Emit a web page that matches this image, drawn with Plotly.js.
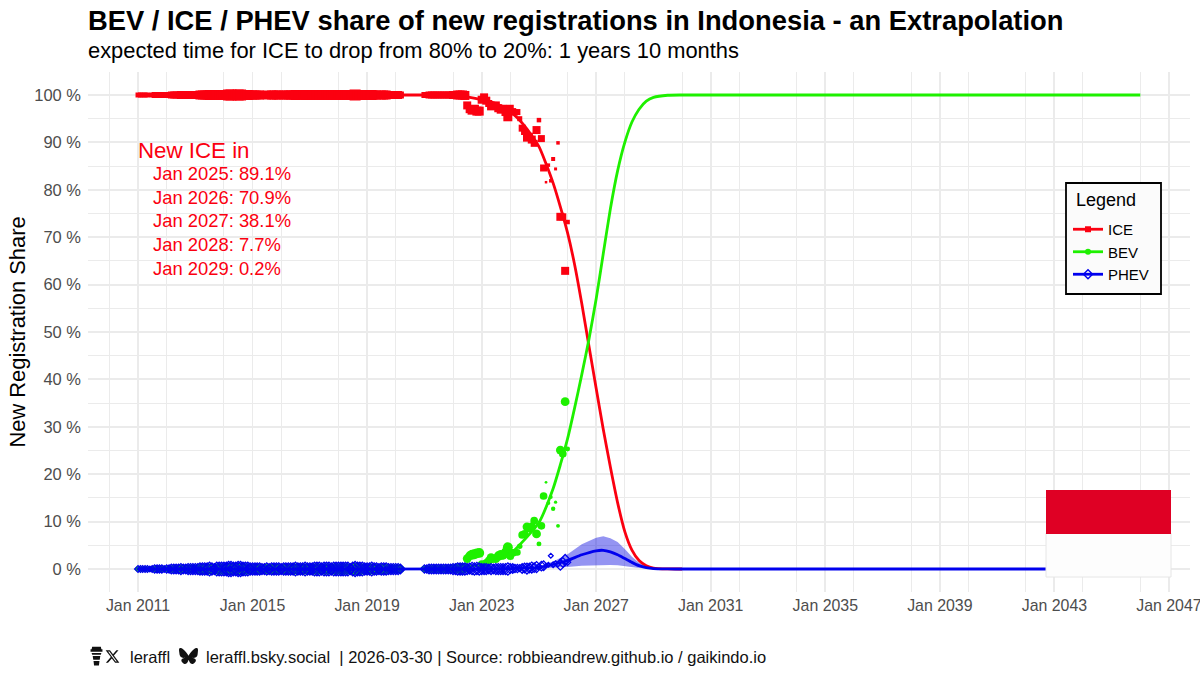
<!DOCTYPE html>
<html>
<head>
<meta charset="utf-8">
<script src="https://cdn.plot.ly/plotly-3.0.1.min.js"></script>
<style>html,body{margin:0;padding:0;background:#fff}</style>
</head>
<body>
<div id="chart" style="width:1200px;height:675px"></div>
<script>
// monthly marker sizes, 2011-01 .. 2020-03 (all near 100 % ICE, 0 % BEV / PHEV)
const earlySizes = [
  5,5,5,5,5,4,5,6,6,6,6,5,
  6,6,7,7,7,7,8,7,7,8,8,8,
  8,8,9,9,9,9,10,9,8,10,10,10,
  10,10,11,11,10,10,11,11,10,10,10,9,
  9,9,9,9,8,8,9,8,9,9,9,9,
  8,9,9,9,9,9,10,9,9,9,10,9,
  9,9,10,10,10,9,10,10,10,9,10,10,
  10,10,10,10,10,8,10,11,10,10,10,9,
  9,9,10,9,9,8,9,9,9,8,8,8,
  8,8,7
];
const earlyIce = [
  100,100,100,100,100,100,100,100,100,100,100,100,
  100,100,100,100,100,100,100,100,100,100,100,100,
  100,100,100,100,100,100,100,100,100,100,100,100,
  100,100,100,100,100,100,100,100,100,100,100,100,
  100,100,100,100,100,100,100,100,100,100,100,100,
  100,100,100,100,100,100,100,100,100,100,100,100,
  100,100,100,100,100,100,100,100,100,100,100,100,
  100,100,100,100,100,100,100,100,100,100,100,100,
  100,100,100,100,100,100,100,100,100,100,100,100,
  100,100,100
];

// monthly points 2021-01 .. 2026-01
const lateSizes = [
  6,6,7,7,7,7,7,7,7,7,7,7,
  8,8,9,9,9,9,8,8,9,9,9,9,
  8,8,8,7,8,7,8,8,8,8,8,9,
  7,7,6,6,5,7,7,8,7,8,7,8,
  4.5,7,7,2.5,3.5,3.5,4,3,3.5,8,7,8,
  4.5
];
const lateIce = [
  100,100,100,100,100,100,100,100,100,100,100,100,
  100,100,100,100,100,99.9,97.8,97,96.8,97,96.6,96.6,
  99,99.5,98.8,98.2,97.6,97.8,97.8,97.2,96.9,97.1,96.4,95.4,
  97.2,96.5,96.3,96.4,95,93,92.3,91,91.3,90.6,89.8,92.6,
  94.7,90.8,84.6,81.6,85.2,81.9,86.5,84.4,89.9,74.3,74.3,62.9,
  73.2
];
const lateBev = [
  0,0,0,0,0,0,0,0,0,0,0,0,
  0.1,0.1,0.1,0.1,0.1,0.2,2.2,2.8,3,3.1,3.3,3.4,
  0.9,0.5,1.2,1.8,2.4,2.2,2.2,2.8,3.1,2.9,3.6,4.6,
  2.7,3.4,3.5,3.5,4.8,7.2,7.4,8.9,8.5,8.9,10.2,7.4,
  5.3,9.1,15.4,18.3,13.9,15.2,12.7,14.1,9.1,25.1,24.3,35.3,
  25.3
];
const latePhev = [
  0,0,0,0,0,0,0,0,0,0,0,0,
  0,0,0,0,0,0,0,0.1,0.1,0,0.1,0,
  0,0,0,0,0,0,0,0,0,0,0,0,
  0.1,0.1,0.1,0.1,0.2,0.1,0.2,0.1,0.2,0.3,0.3,0.4,
  0.5,0.6,0.7,0.8,0.9,2.8,0.9,1.3,1,0.9,1.4,1.9,
  1.4
];

// fitted curves, read at the dates below
const iceCurveDates = ['2020-03-01','2021-01-01','2022-01-01','2022-07-01','2023-01-01','2023-07-01','2024-01-01','2024-07-01','2025-01-01','2025-04-01','2025-07-01','2025-10-01','2026-01-01','2026-04-01','2026-07-01','2026-10-01','2027-01-01','2027-04-01','2027-07-01','2027-10-01','2028-01-01','2028-04-01','2028-07-01','2028-10-01','2029-01-01','2029-07-01','2030-01-01'];
const iceCurve = [100,100,99.9,99.6,99,98.2,96.5,93.5,89.1,85.5,81.4,76.4,70.9,64.2,56,47,38.1,29.5,21.5,14,7.9,4,1.8,0.7,0.2,0.02,0];
const bevCurveDates = ['2021-01-01','2022-01-01','2022-07-01','2023-01-01','2023-07-01','2024-01-01','2024-07-01','2025-01-01','2025-07-01','2025-10-01','2026-01-01','2026-04-01','2026-07-01','2026-10-01','2027-01-01','2027-04-01','2027-07-01','2027-10-01','2028-01-01','2028-04-01','2028-07-01','2028-10-01','2029-01-01','2029-07-01','2030-01-01','2031-01-01','2045-01-01','2046-01-01'];
const bevCurve = [0,0.2,0.5,1,1.8,3.2,6.2,9.8,17,22,27.5,34,41,48.5,57,66.5,76,84,90,94.3,97,98.7,99.5,99.95,100,100,100,100];
const phevCurveDates = ['2011-01-01','2012-01-01','2023-01-01','2024-01-01','2025-01-01','2025-07-01','2026-01-01','2026-07-01','2027-01-01','2027-04-01','2027-07-01','2027-10-01','2028-01-01','2028-04-01','2028-07-01','2028-10-01','2029-01-01','2029-07-01','2030-01-01','2031-01-01','2045-01-01','2046-01-01'];
const phevCurve = [0,0,0.02,0.1,0.35,0.95,1.8,3,3.85,3.95,3.6,3,2.2,1.4,0.7,0.3,0.1,0.02,0,0,0,0];
const phevUpper = [0,0,0.02,0.1,0.6,1.6,3.1,5.2,6.6,6.9,6.5,5.7,4.2,2.6,1.3,0.5,0.15,0.03,0,0,0,0];
const phevLower = [0,0,0.01,0.05,0.1,0.3,0.45,0.7,0.85,0.85,0.85,0.8,0.7,0.45,0.2,0.1,0.05,0.01,0,0,0,0];

const noteYears = ['Jan 2025','Jan 2026','Jan 2027','Jan 2028','Jan 2029'];
const noteShares = ['89.1%','70.9%','38.1%','7.7%','0.2%'];

const RED = '#fb0010', GREEN = '#1ef000', BLUE = '#0000ee';
const W = 1200, H = 675;
const ML = 88, MR = 10, MT = 72, MB = 83;
// pixel position -> plot area fraction
const px = v => (v - ML) / (W - ML - MR), py = v => (H - MB - v) / (H - MT - MB);

function months(y, m, n) {
  const out = [];
  for (let i = 0; i < n; i++) {
    const t = (m - 1) + i;
    const mm = String(t % 12 + 1).padStart(2, '0');
    out.push((y + Math.floor(t / 12)) + '-' + mm + '-01');
  }
  return out;
}

const dates = months(2011, 1, earlySizes.length).concat(months(2021, 1, lateSizes.length));
const sizes = earlySizes.concat(lateSizes);
const icePts = earlyIce.concat(lateIce);
const bevPts = earlySizes.map(() => 0).concat(lateBev);
const phevPts = earlySizes.map(() => 0).concat(latePhev);

const traces = [
  { x: dates, y: icePts, mode: 'markers', showlegend: false, hoverinfo: 'skip',
    marker: { symbol: 'square', color: RED, size: sizes, opacity: 1, line: { width: 0 } } },
  { x: dates, y: bevPts, mode: 'markers', showlegend: false, hoverinfo: 'skip',
    marker: { symbol: 'circle', color: GREEN, size: sizes.map(s => s * 1.1), opacity: 1, line: { width: 0 } } },
  { x: phevCurveDates.concat(phevCurveDates.slice().reverse()),
    y: phevUpper.concat(phevLower.slice().reverse()),
    mode: 'lines', fill: 'toself', fillcolor: 'rgba(0,0,225,0.42)', line: { width: 0 },
    showlegend: false, hoverinfo: 'skip' },
  { x: iceCurveDates, y: iceCurve, mode: 'lines', showlegend: false, hoverinfo: 'skip',
    line: { color: RED, width: 2.8, shape: 'spline', smoothing: 0.6 } },
  { x: bevCurveDates, y: bevCurve, mode: 'lines', showlegend: false, hoverinfo: 'skip',
    line: { color: GREEN, width: 2.8, shape: 'spline', smoothing: 0.6 } },
  { x: dates, y: phevPts, mode: 'markers', showlegend: false, hoverinfo: 'skip',
    marker: { symbol: 'diamond-open', color: BLUE, size: sizes.map(s => s * 1.05), opacity: 1, line: { width: 1.3, color: BLUE } } },
  { x: phevCurveDates, y: phevCurve, mode: 'lines', showlegend: false, hoverinfo: 'skip',
    line: { color: BLUE, width: 2.8, shape: 'spline', smoothing: 0.6 } },
  // legend only
  { x: [null], y: [null], name: 'ICE', mode: 'lines+markers', line: { color: RED, width: 2.8 }, marker: { symbol: 'square', color: RED, size: 6 } },
  { x: [null], y: [null], name: 'BEV', mode: 'lines+markers', line: { color: GREEN, width: 2.8 }, marker: { symbol: 'circle', color: GREEN, size: 6 } },
  { x: [null], y: [null], name: 'PHEV', mode: 'lines+markers', line: { color: BLUE, width: 2.8 }, marker: { symbol: 'diamond-open', color: BLUE, size: 7, line: { width: 1.4, color: BLUE } } }
];

const FONT = 'Liberation Sans, Arial, sans-serif';
const label = (text, x, y, size, color) => ({
  text, xref: 'paper', yref: 'paper', x: px(x - 2), y: py(y), xanchor: 'left', yanchor: 'middle',
  showarrow: false, font: { family: FONT, size, color }
});

const annotations = [
  label('expected time for ICE to drop from 80% to 20%: 1 years 10 months', 88, 51, 21.9, '#000'),
  label('New ICE in', 138, 150, 22.3, RED),
  label('Legend', 1076, 200, 18, '#000'),
  label('leraffl', 130, 657, 16.5, '#111'),
  label('leraffl.bsky.social  | 2026-03-30 | Source: robbieandrew.github.io / gaikindo.io', 206, 657, 16.5, '#111')
];
const noteY = [173, 197, 220, 244, 268];
noteYears.forEach((yr, i) => {
  annotations.push(label(yr + ': ' + noteShares[i], 153, noteY[i], 18.4, RED));
});

const rect = (x0, y0, x1, y1, fill, line) => ({
  type: 'rect', xref: 'paper', yref: 'paper', x0: px(x0), x1: px(x1), y0: py(y0), y1: py(y1),
  fillcolor: fill, line: line || { width: 0 }, layer: 'above'
});

const svg = s => 'data:image/svg+xml;utf8,' + encodeURIComponent(s);
const icon = (src, x, y, w, h) => ({
  source: svg(src), xref: 'paper', yref: 'paper', x: px(x), y: py(y), sizex: w / (W - ML - MR), sizey: h / (H - MT - MB),
  xanchor: 'left', yanchor: 'top', sizing: 'stretch', layer: 'above'
});
const cup = '<svg xmlns="http://www.w3.org/2000/svg" viewBox="0 0 24 32"><path fill="#111" d="M4 1h16l1 4h2v4H1V5h2zM3 11h18l-1 3H4zM5 16h14l-1 6H6zM6.500 24h11l-1 7h-9z"/></svg>';
const xMark = '<svg xmlns="http://www.w3.org/2000/svg" viewBox="0 0 24 24"><path fill="#111" d="M18.200 2h3.400l-7.400 8.500L23 22h-6.800l-5.300-7-6.100 7H1.400l7.900-9.100L1 2h7l4.800 6.400zM17 20h1.900L7 3.900H5z"/></svg>';
const fly = '<svg xmlns="http://www.w3.org/2000/svg" viewBox="0 0 24 22"><path fill="#111" d="M5.200 1.500C8 3.600 10.900 7.800 12 10c1.100-2.200 4-6.400 6.800-8.500C20.800 0 24-1.100 24 2.500c0 .7-.4 6-.7 6.900-.8 3-3.900 3.800-6.600 3.300 4.700.8 5.900 3.500 3.300 6.100-4.900 5-7-1.300-7.600-2.900-.1-.3-.4-.3-.5 0-.5 1.600-2.700 7.900-7.600 2.900-2.600-2.600-1.400-5.300 3.300-6.100-2.700.5-5.800-.3-6.600-3.300C.7 8.500 0 3.200 0 2.500 0-1.100 3.200 0 5.200 1.500z"/></svg>';

const layout = {
  width: W, height: H,
  margin: { l: ML, r: MR, t: MT, b: MB },
  paper_bgcolor: '#fff', plot_bgcolor: '#fff',
  font: { family: FONT, color: '#000' },
  title: { text: '<b>BEV / ICE / PHEV share of new registrations in Indonesia - an Extrapolation</b>',
    font: { family: FONT, size: 27.35, color: '#000' }, x: 88 / W, xanchor: 'left', xref: 'container',
    y: 1 - 20 / H, yanchor: 'middle', yref: 'container' },
  xaxis: {
    type: 'date', range: ['2009-04-03', '2047-09-27'],
    tick0: '2011-01-01', dtick: 'M48', tickformat: '%b %Y',
    tickfont: { family: FONT, size: 15.9, color: '#4d4d4d' }, ticklabelstandoff: 2, ticklabeloverflow: 'allow',
    showgrid: true, gridcolor: '#ebebeb', gridwidth: 1.8, zeroline: false, showline: false, ticks: '',
    minor: { dtick: 'M24', showgrid: true, gridcolor: '#ebebeb', gridwidth: 1 }
  },
  yaxis: {
    range: [-4.85, 104.85], tick0: 0, dtick: 10, ticksuffix: ' %',
    tickfont: { family: FONT, size: 16.5, color: '#4d4d4d' }, ticklabelstandoff: 6,
    showgrid: true, gridcolor: '#ebebeb', gridwidth: 1.8, zeroline: false, showline: false, ticks: '',
    minor: { dtick: 5, showgrid: true, gridcolor: '#ebebeb', gridwidth: 1 },
    title: { text: 'New Registration Share', font: { family: FONT, size: 21.9, color: '#000' }, standoff: 2 }
  },
  legend: {
    x: px(1068), y: py(213), xanchor: 'left', yanchor: 'top',
    bgcolor: 'rgba(0,0,0,0)', borderwidth: 0,
    font: { family: FONT, size: 15, color: '#000' }, itemwidth: 30, tracegroupgap: 0
  },
  shapes: [
    rect(1066, 183, 1161, 294, '#fbfbfb', { width: 1.8, color: '#000' }),
    rect(1046, 533, 1171, 577, '#fdfdfd', { width: 1, color: '#e6e6e6' }),
    rect(1046, 490, 1171, 534, '#df0024')
  ],
  images: [
    icon(cup, 90, 646, 13, 20),
    icon(xMark, 105, 649, 15, 15),
    icon(fly, 179, 648, 19, 17)
  ],
  annotations
};

Plotly.newPlot('chart', traces, layout, { displayModeBar: false, staticPlot: true });
</script>
</body>
</html>
